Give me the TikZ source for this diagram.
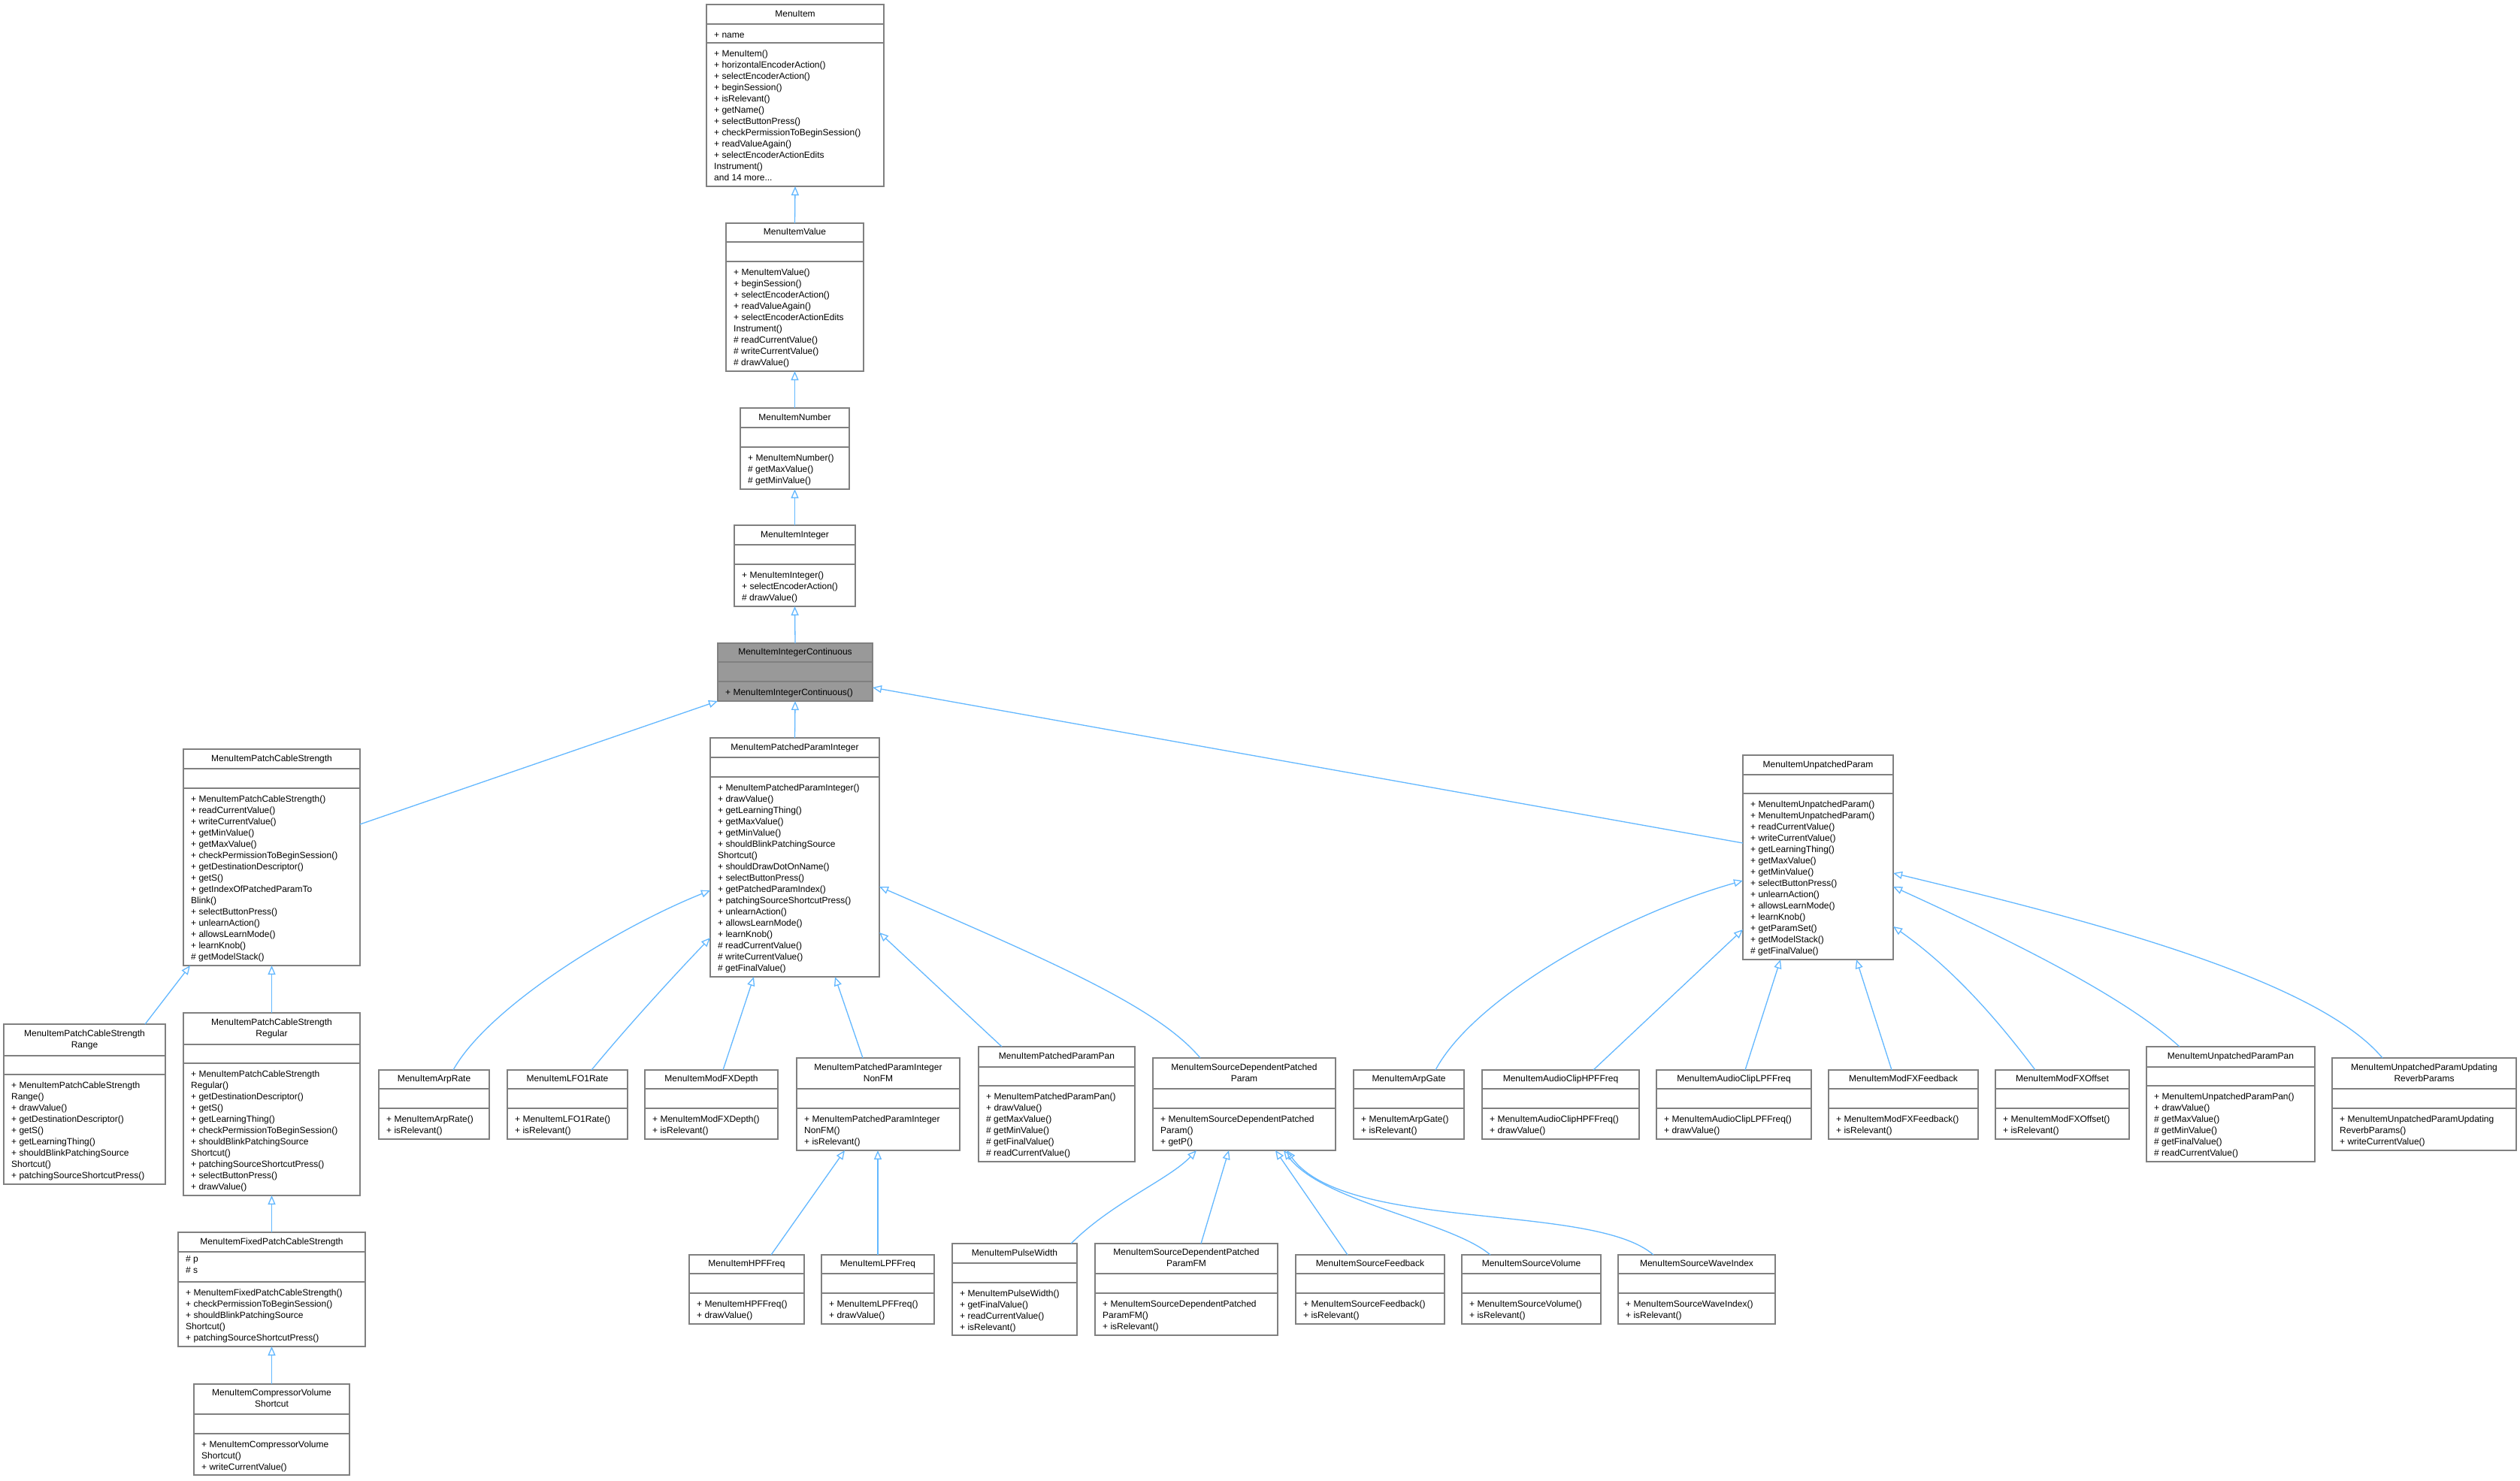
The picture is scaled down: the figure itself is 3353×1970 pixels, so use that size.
\documentclass[tikz,border=0pt]{standalone}
\usepackage{fontspec}
\setmainfont{Liberation Sans}
\usetikzlibrary{arrows.meta,calc}
\definecolor{edgeblue}{HTML}{63B8FF}
\definecolor{boxgray}{HTML}{808080}
\newcommand\sr{\rule[-3pt]{0pt}{12pt}}
\newcommand\fr{\rule{0pt}{11.5pt}}
\tikzset{
  clsbox/.style={draw=boxgray,line width=1.5pt,fill=white,inner sep=0pt,outer sep=0pt,anchor=north west},
  sepline/.style={draw=boxgray,line width=1.5pt},
  ttl/.style={font=\fontsize{12}{15}\selectfont,align=center,inner sep=0pt},
  mth/.style={font=\fontsize{12}{15}\selectfont,align=left,inner sep=0pt,anchor=north west},
  inh/.style={draw=edgeblue,line width=1.3pt,-{Triangle[open,length=12pt,width=10pt,line width=1.3pt]}}
}
% name x1 y1 x2 y2 s1 s2 title methods
\newcommand\cls[9]{%
  \node[clsbox,minimum width={(#4-#2)*1pt},minimum height={(#5-#3)*1pt}] (#1) at (#2,#3) {};
  \draw[sepline] (#2,#6) -- (#4,#6);
  \draw[sepline] (#2,#7) -- (#4,#7);
  \node[ttl] (#1-t) at ({(#2+#4)/2},{(#3+#6)/2}) {#8};
  \node[mth] (#1-m) at ({#2+10},{#7+7}) {\fr#9};
}
\begin{document}
\begin{tikzpicture}[x=1pt,y=-1pt]
\useasboundingbox[fill=white] (0,0) rectangle (3353,1970);

\cls{mi}{940}{6}{1176}{248}{32}{57}{\sr MenuItem}{+ MenuItem()\\+ horizontalEncoderAction()\\+ selectEncoderAction()\\+ beginSession()\\+ isRelevant()\\+ getName()\\+ selectButtonPress()\\+ checkPermissionToBeginSession()\\+ readValueAgain()\\+ selectEncoderActionEdits\\Instrument()\\and 14 more...}
\node[mth] (mi-a) at (950,39) {\fr+ name};
\cls{val}{966}{297}{1149}{494}{322}{348}{\sr MenuItemValue}{+ MenuItemValue()\\+ beginSession()\\+ selectEncoderAction()\\+ readValueAgain()\\+ selectEncoderActionEdits\\Instrument()\\\# readCurrentValue()\\\# writeCurrentValue()\\\# drawValue()}
\cls{num}{985}{543}{1130}{651}{569}{595}{\sr MenuItemNumber}{+ MenuItemNumber()\\\# getMaxValue()\\\# getMinValue()}
\cls{int}{977}{699}{1138}{807}{725}{751}{\sr MenuItemInteger}{+ MenuItemInteger()\\+ selectEncoderAction()\\\# drawValue()}
\cls{cont}{955}{856}{1161}{933}{881}{907}{\sr MenuItemIntegerContinuous}{+ MenuItemIntegerContinuous()}
\fill[black!40] (cont.north west) rectangle (cont.south east);
\draw[sepline] (cont.north west) rectangle (cont.south east);
\draw[sepline] (955,881) -- (1161,881);
\draw[sepline] (955,907) -- (1161,907);
\node[ttl] at (cont-t) {\sr MenuItemIntegerContinuous};
\node[mth] at (cont-m.north west) {\fr+ MenuItemIntegerContinuous()};

\cls{pcs}{244}{997}{479}{1285}{1023}{1049}{\sr MenuItemPatchCableStrength}{+ MenuItemPatchCableStrength()\\+ readCurrentValue()\\+ writeCurrentValue()\\+ getMinValue()\\+ getMaxValue()\\+ checkPermissionToBeginSession()\\+ getDestinationDescriptor()\\+ getS()\\+ getIndexOfPatchedParamTo\\Blink()\\+ selectButtonPress()\\+ unlearnAction()\\+ allowsLearnMode()\\+ learnKnob()\\\# getModelStack()}
\cls{range}{5}{1363}{220}{1576}{1405}{1430}{\sr MenuItemPatchCableStrength\\\sr Range}{+ MenuItemPatchCableStrength\\Range()\\+ drawValue()\\+ getDestinationDescriptor()\\+ getS()\\+ getLearningThing()\\+ shouldBlinkPatchingSource\\Shortcut()\\+ patchingSourceShortcutPress()}
\cls{reg}{244}{1348}{479}{1591}{1390}{1415}{\sr MenuItemPatchCableStrength\\\sr Regular}{+ MenuItemPatchCableStrength\\Regular()\\+ getDestinationDescriptor()\\+ getS()\\+ getLearningThing()\\+ checkPermissionToBeginSession()\\+ shouldBlinkPatchingSource\\Shortcut()\\+ patchingSourceShortcutPress()\\+ selectButtonPress()\\+ drawValue()}
\cls{fixed}{237}{1640}{486}{1792}{1666}{1706}{\sr MenuItemFixedPatchCableStrength}{+ MenuItemFixedPatchCableStrength()\\+ checkPermissionToBeginSession()\\+ shouldBlinkPatchingSource\\Shortcut()\\+ patchingSourceShortcutPress()}
\node[mth] (fixed-a) at (247,1668) {\fr\# p\\\# s};
\cls{comp}{258}{1842}{465}{1963}{1882}{1908}{\sr MenuItemCompressorVolume\\\sr Shortcut}{+ MenuItemCompressorVolume\\Shortcut()\\+ writeCurrentValue()}

\cls{ppi}{945}{982}{1170}{1300}{1008}{1034}{\sr MenuItemPatchedParamInteger}{+ MenuItemPatchedParamInteger()\\+ drawValue()\\+ getLearningThing()\\+ getMaxValue()\\+ getMinValue()\\+ shouldBlinkPatchingSource\\Shortcut()\\+ shouldDrawDotOnName()\\+ selectButtonPress()\\+ getPatchedParamIndex()\\+ patchingSourceShortcutPress()\\+ unlearnAction()\\+ allowsLearnMode()\\+ learnKnob()\\\# readCurrentValue()\\\# writeCurrentValue()\\\# getFinalValue()}
\cls{arprate}{504}{1424}{651}{1516}{1449}{1475}{\sr MenuItemArpRate}{+ MenuItemArpRate()\\+ isRelevant()}
\cls{lfo}{675}{1424}{835}{1516}{1449}{1475}{\sr MenuItemLFO1Rate}{+ MenuItemLFO1Rate()\\+ isRelevant()}
\cls{mfxd}{858}{1424}{1035}{1516}{1449}{1475}{\sr MenuItemModFXDepth}{+ MenuItemModFXDepth()\\+ isRelevant()}
\cls{nonfm}{1060}{1408}{1277}{1531}{1449}{1475}{\sr MenuItemPatchedParamInteger\\\sr NonFM}{+ MenuItemPatchedParamInteger\\NonFM()\\+ isRelevant()}
\cls{pan}{1302}{1393}{1510}{1546}{1420}{1445}{\sr MenuItemPatchedParamPan}{+ MenuItemPatchedParamPan()\\+ drawValue()\\\# getMaxValue()\\\# getMinValue()\\\# getFinalValue()\\\# readCurrentValue()}
\cls{sdp}{1534}{1408}{1777}{1531}{1449}{1475}{\sr MenuItemSourceDependentPatched\\\sr Param}{+ MenuItemSourceDependentPatched\\Param()\\+ getP()}
\cls{hpf}{917}{1670}{1070}{1762}{1695}{1721}{\sr MenuItemHPFFreq}{+ MenuItemHPFFreq()\\+ drawValue()}
\cls{lpf}{1093}{1670}{1243}{1762}{1695}{1721}{\sr MenuItemLPFFreq}{+ MenuItemLPFFreq()\\+ drawValue()}
\cls{pulse}{1267}{1655}{1433}{1777}{1681}{1707}{\sr MenuItemPulseWidth}{+ MenuItemPulseWidth()\\+ getFinalValue()\\+ readCurrentValue()\\+ isRelevant()}
\cls{sdpfm}{1457}{1655}{1700}{1777}{1695}{1721}{\sr MenuItemSourceDependentPatched\\\sr ParamFM}{+ MenuItemSourceDependentPatched\\ParamFM()\\+ isRelevant()}
\cls{sfb}{1724}{1670}{1922}{1762}{1695}{1721}{\sr MenuItemSourceFeedback}{+ MenuItemSourceFeedback()\\+ isRelevant()}
\cls{svol}{1945}{1670}{2130}{1762}{1695}{1721}{\sr MenuItemSourceVolume}{+ MenuItemSourceVolume()\\+ isRelevant()}
\cls{swav}{2153}{1670}{2362}{1762}{1695}{1721}{\sr MenuItemSourceWaveIndex}{+ MenuItemSourceWaveIndex()\\+ isRelevant()}

\cls{unp}{2319}{1005}{2519}{1277}{1031}{1056}{\sr MenuItemUnpatchedParam}{+ MenuItemUnpatchedParam()\\+ MenuItemUnpatchedParam()\\+ readCurrentValue()\\+ writeCurrentValue()\\+ getLearningThing()\\+ getMaxValue()\\+ getMinValue()\\+ selectButtonPress()\\+ unlearnAction()\\+ allowsLearnMode()\\+ learnKnob()\\+ getParamSet()\\+ getModelStack()\\\# getFinalValue()}
\cls{arpgate}{1801}{1424}{1948}{1516}{1449}{1475}{\sr MenuItemArpGate}{+ MenuItemArpGate()\\+ isRelevant()}
\cls{chpf}{1972}{1424}{2181}{1516}{1449}{1475}{\sr MenuItemAudioClipHPFFreq}{+ MenuItemAudioClipHPFFreq()\\+ drawValue()}
\cls{clpf}{2204}{1424}{2410}{1516}{1449}{1475}{\sr MenuItemAudioClipLPFFreq}{+ MenuItemAudioClipLPFFreq()\\+ drawValue()}
\cls{mfxfb}{2433}{1424}{2632}{1516}{1449}{1475}{\sr MenuItemModFXFeedback}{+ MenuItemModFXFeedback()\\+ isRelevant()}
\cls{mfxo}{2655}{1424}{2833}{1516}{1449}{1475}{\sr MenuItemModFXOffset}{+ MenuItemModFXOffset()\\+ isRelevant()}
\cls{upan}{2856}{1393}{3080}{1546}{1420}{1445}{\sr MenuItemUnpatchedParamPan}{+ MenuItemUnpatchedParamPan()\\+ drawValue()\\\# getMaxValue()\\\# getMinValue()\\\# getFinalValue()\\\# readCurrentValue()}
\cls{rev}{3103}{1408}{3348}{1531}{1449}{1475}{\sr MenuItemUnpatchedParamUpdating\\\sr ReverbParams}{+ MenuItemUnpatchedParamUpdating\\ReverbParams()\\+ writeCurrentValue()}

% inheritance
\draw[inh] (val.north) -- (mi.south);
\draw[inh] (num.north) -- (val.south);
\draw[inh] (int.north) -- (num.south);
\draw[inh] (cont.north) -- (int.south);
\draw[inh] (ppi.north) -- (cont.south);
\draw[inh] ([shift={(0,100)}]pcs.north east) -- (cont.south west);
\draw[inh] ([shift={(0,117)}]unp.north west) -- ([shift={(0,59)}]cont.north east);
\draw[inh] ([shift={(188,0)}]range.north west) -- ([shift={(9,0)}]pcs.south west);
\draw[inh] (reg.north) -- (pcs.south);
\draw[inh] (fixed.north) -- (reg.south);
\draw[inh] (comp.north) -- (fixed.south);

\draw[inh] ([shift={(99,0)}]arprate.north west) .. controls (650,1340) and (820,1235) .. ([shift={(0,203)}]ppi.north west);
\draw[inh] ([shift={(112,0)}]lfo.north west) .. controls (840,1360) and (900,1295) .. ([shift={(0,266)}]ppi.north west);
\draw[inh] ([shift={(104,0)}]mfxd.north west) -- ([shift={(58,0)}]ppi.south west);
\draw[inh] ([shift={(88,0)}]nonfm.north west) -- ([shift={(166,0)}]ppi.south west);
\draw[inh] ([shift={(31,0)}]pan.north west) -- ([shift={(0,259)}]ppi.north east);
\draw[inh] ([shift={(63,0)}]sdp.north west) .. controls (1540,1340) and (1400,1280) .. ([shift={(0,198)}]ppi.north east);
\draw[inh] ([shift={(109,0)}]hpf.north west) -- ([shift={(64,0)}]nonfm.south west);
\draw[inh] (lpf.north) -- ([shift={(108,0)}]nonfm.south west);
\draw[inh] ([shift={(158,0)}]pulse.north west) .. controls (1480,1600) and (1555,1570) .. ([shift={(58,0)}]sdp.south west);
\draw[inh] ([shift={(141,0)}]sdpfm.north west) -- ([shift={(101,0)}]sdp.south west);
\draw[inh] ([shift={(69,0)}]sfb.north west) -- ([shift={(163,0)}]sdp.south west);
\draw[inh] ([shift={(38,0)}]svol.north west) .. controls (1930,1625) and (1760,1600) .. ([shift={(174,0)}]sdp.south west);
\draw[inh] ([shift={(47,0)}]swav.north west) .. controls (2120,1600) and (1790,1640) .. ([shift={(178,0)}]sdp.south west);

\draw[inh] ([shift={(109,0)}]arpgate.north west) .. controls (1960,1330) and (2150,1220) .. ([shift={(0,167)}]unp.north west);
\draw[inh] ([shift={(148,0)}]chpf.north west) -- ([shift={(0,232)}]unp.north west);
\draw[inh] ([shift={(118,0)}]clpf.north west) -- ([shift={(50,0)}]unp.south west);
\draw[inh] ([shift={(84,0)}]mfxfb.north west) -- ([shift={(151,0)}]unp.south west);
\draw[inh] ([shift={(53,0)}]mfxo.north west) .. controls (2660,1360) and (2600,1290) .. ([shift={(0,228)}]unp.north east);
\draw[inh] ([shift={(44,0)}]upan.north west) .. controls (2820,1320) and (2650,1240) .. ([shift={(0,175)}]unp.north east);
\draw[inh] ([shift={(67,0)}]rev.north west) .. controls (3080,1300) and (2760,1220) .. ([shift={(0,157)}]unp.north east);
\end{tikzpicture}
\end{document}
